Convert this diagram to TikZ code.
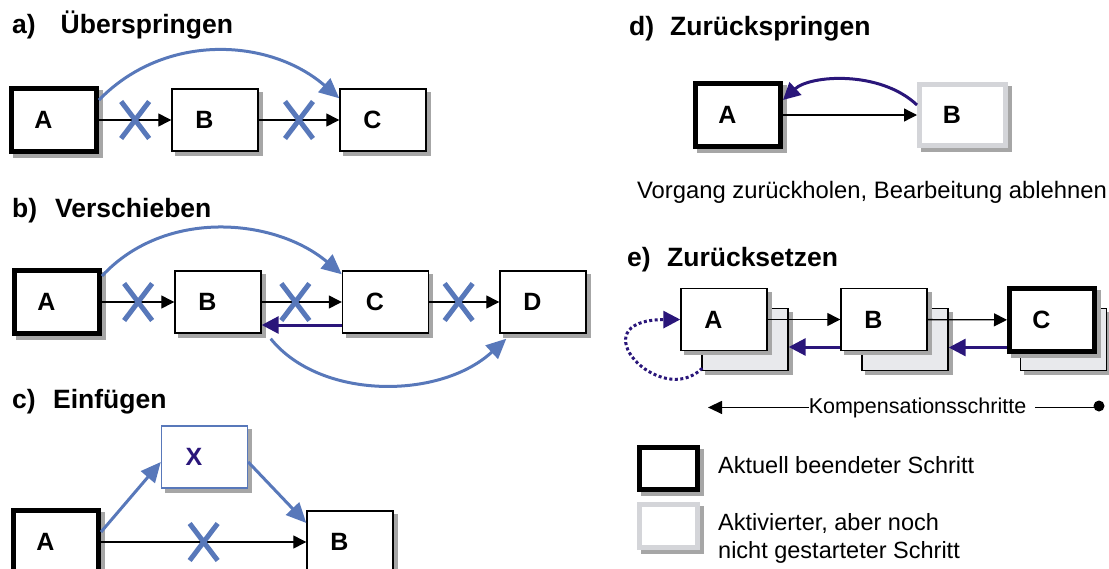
\documentclass[tikz,border=0pt]{standalone}
\usepackage{fontspec}
\setmainfont{Liberation Sans}
\usetikzlibrary{arrows.meta,shadows,shapes.misc,positioning}

\definecolor{stahlblau}{RGB}{88,120,186}
\definecolor{lila}{RGB}{42,22,122}
\definecolor{schatten}{RGB}{166,166,166}
\definecolor{hellgrau}{RGB}{212,213,217}
\definecolor{hinten}{RGB}{232,233,236}

\tikzset{
  schritt/.style={draw, fill=white, line width=1.4pt, minimum width=86pt, minimum height=62pt, inner sep=0pt,
    font=\fontsize{25}{30}\selectfont\bfseries, execute at end node={\hspace*{21pt}},
    drop shadow={shadow xshift=4pt, shadow yshift=-4pt, fill=schatten, draw=schatten, opacity=1}},
  aktuell/.style={schritt, line width=5pt, minimum width=85pt, minimum height=63pt},
  aktiviert/.style={schritt, draw=hellgrau, line width=5pt, minimum width=86pt, minimum height=61pt},
  titel/.style={inner sep=0pt, anchor=base west, font=\fontsize{26.5}{32}\selectfont\bfseries},
  beschriftung/.style={inner sep=0pt, font=\fontsize{23.5}{28}\selectfont},
  kreuz/.style={cross out, draw=stahlblau, line width=5pt, minimum width=23pt, minimum height=32pt, inner sep=0pt},
  pfeil/.style={draw=black, line width=1.3pt, -{Triangle[length=13pt,width=13pt]}},
  sprung/.style={draw=stahlblau, line width=3pt, -{Triangle[length=20pt,width=18pt]}},
  zurueck/.style={draw=lila, line width=3pt, -{Triangle[length=17pt,width=17pt]}},
  punkt/.style={circle, fill=black, inner sep=0pt, minimum size=11pt}
}

\begin{document}
\begin{tikzpicture}[x=1pt,y=-1pt]
  \useasboundingbox (0,0) rectangle (1109,568);

  % a) Ueberspringen
  \node[titel] (titela) at (12,33) {a)\hspace{25pt}Überspringen};
  \node[aktuell] (a1) at (54,120) {A};
  \node[schritt] (b1) at (215,120) {B};
  \node[schritt] (c1) at (383,120) {C};
  \draw[pfeil] (a1) -- node[kreuz] (xa1) {} (b1);
  \draw[pfeil] (b1) -- node[kreuz] (xa2) {} (c1);
  \draw[sprung] ([yshift=20pt]a1.east) .. controls (165,32) and (270,38) .. ([yshift=-10pt]c1.north west);

  % b) Verschieben
  \node[titel] (titelb) at (12,217) {b)\hspace{18pt}Verschieben};
  \node[aktuell] (a2) at (57,302) {A};
  \node[schritt] (b2) at (218,302) {B};
  \node[schritt] (c2) at (385.5,302) {C};
  \node[schritt] (d2) at (543,302) {D};
  \draw[pfeil] (a2) -- node[kreuz] (xb1) {} (b2);
  \draw[pfeil] (b2) -- node[kreuz, pos=0.42] (xb2) {} (c2);
  \draw[pfeil] (c2) -- node[kreuz, pos=0.42] (xb3) {} (d2);
  \draw[zurueck] ([yshift=-23pt]c2.west) -- ([yshift=-23pt]b2.east);
  \draw[sprung] ([yshift=26pt]a2.east) .. controls (165,208) and (275,218) .. ([yshift=-4pt]c2.north west);
  \draw[sprung] ([xshift=9pt,yshift=-5pt]b2.south east) .. controls (320,400) and (440,400) .. ([xshift=7pt,yshift=-5pt]d2.south west);

  % c) Einfuegen
  \node[titel] (titelc) at (12,408) {c)\hspace{17.4pt}Einfügen};
  \node[aktuell] (a3) at (56,542) {A};
  \node[schritt, draw=stahlblau, text=lila] (x3) at (204.5,457) {X};
  \node[schritt] (b3) at (350,542) {B};
  \draw[pfeil] (a3) -- node[kreuz] (xc1) {} (b3);
  \draw[sprung] ([yshift=10pt]a3.east) -- ([yshift=-5pt]x3.west);
  \draw[sprung] ([yshift=-5pt]x3.east) -- ([yshift=19pt]b3.west);

  % d) Zurueckspringen
  \node[titel] (titeld) at (629,35) {d)\hspace{16pt}Zurückspringen};
  \node[aktuell] (a4) at (738,115) {A};
  \node[aktiviert] (b4) at (962.5,115) {B};
  \draw[pfeil] (a4) -- (b4);
  \draw[zurueck] ([yshift=10pt]b4.west) .. controls (880,70) and (810,75) .. ([yshift=15pt]a4.east);
  \node[beschriftung, anchor=base, font=\fontsize{23.8}{28}\selectfont] (vorgang) at (872,198) {Vorgang zurückholen, Bearbeitung ablehnen};

  % e) Zuruecksetzen
  \node[titel] (titele) at (627,266) {e)\hspace{16.4pt}Zurücksetzen};
  \node[schritt, fill=hinten] (a5h) at (745,339.5) {};
  \node[schritt, fill=hinten] (b5h) at (905,339.5) {};
  \node[schritt, fill=hinten] (c5h) at (1063.5,339.5) {};
  \node[schritt] (a5) at (724,319.5) {A};
  \node[schritt] (b5) at (884,319.5) {B};
  \node[aktuell] (c5) at (1052,320) {C};
  \draw[pfeil] (a5) -- (b5);
  \draw[pfeil] (b5) -- (c5);
  \draw[zurueck] ([yshift=-27.5pt]b5.west) -- ([yshift=-27.5pt]b5.west -| a5h.east);
  \draw[zurueck] ([yshift=-27.5pt]c5.west) -- ([yshift=-27.5pt]c5.west -| b5h.east);
  \draw[zurueck, line width=3pt, dash pattern=on 3pt off 2.5pt] ([xshift=1pt,yshift=3pt]a5h.south west) .. controls +(-42,42) and +(-104,0.5) .. (a5.west);

  \node[beschriftung, anchor=base, font=\fontsize{21.5}{26}\selectfont] (komp) at (917.5,413) {Kompensationsschritte};
  \coordinate (kompziel) at (708,406);
  \node[punkt] (kompstart) at (1099,406) {};
  \draw[pfeil, -{Triangle[length=14pt,width=13pt]}] (komp.west) -- (komp.west -| kompziel);
  \draw[line width=1.3pt] ([xshift=9pt]komp.east) -- (komp.east -| kompstart);

  % Legende
  \node[aktuell, minimum width=58pt, minimum height=42pt] (leg1) at (668.5,468.5) {};
  \node[beschriftung, anchor=base west] (leg1text) at (718,473) {Aktuell beendeter Schritt};
  \node[aktiviert, minimum width=58pt, minimum height=43pt] (leg2) at (668.5,526) {};
  \node[beschriftung, anchor=base west, align=left] (leg2text) at (718,558) {Aktivierter, aber noch\\nicht gestarteter Schritt};
\end{tikzpicture}
\end{document}
